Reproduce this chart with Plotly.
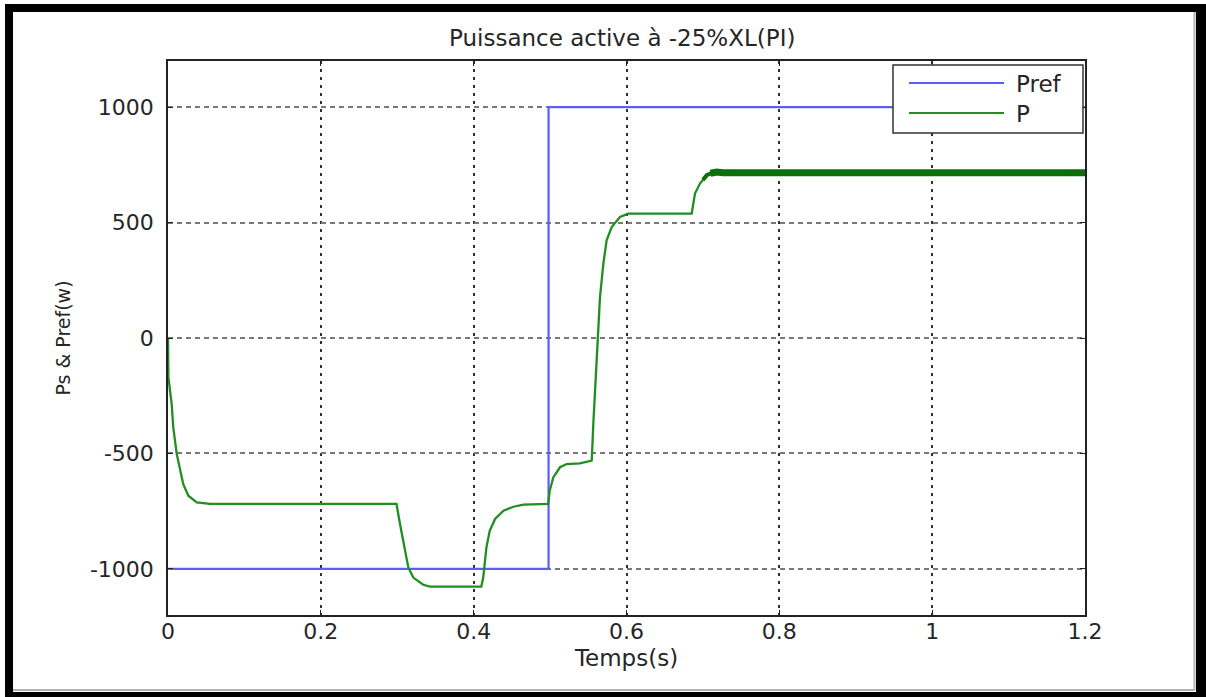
import plotly.graph_objects as go

# ---- data ----
pref_t = [0.0, 0.498, 0.498, 1.2]
pref_v = [-1000, -1000, 1000, 1000]

p_t = [0.0, 0.0005, 0.0048, 0.0069, 0.0114, 0.0157, 0.020, 0.0266, 0.0376, 0.055,
       0.299, 0.3036, 0.310, 0.3145, 0.321, 0.334, 0.343, 0.410,
       0.4125, 0.4167, 0.421, 0.428, 0.439, 0.452, 0.465, 0.4975,
       0.4995, 0.5042, 0.513, 0.5217, 0.539, 0.5545,
       0.5566, 0.561, 0.5632, 0.5653, 0.5697, 0.574, 0.5806, 0.5915, 0.6023,
       0.6853, 0.6896, 0.6961, 0.705, 0.718, 0.726, 1.2]
p_v = [0, -170, -285, -387, -502, -575, -633, -683, -712, -719,
       -719, -806, -922, -994, -1038, -1069, -1077, -1077,
       -1038, -907, -835, -784, -748, -731, -722, -719,
       -662, -604, -560, -546, -543, -531,
       -371, -83, 63, 177, 322, 423, 481, 524, 539,
       539, 626, 669, 705, 719, 716, 716]

# steady-state ripple band of P (drawn thicker)
ripple_start_t = [0.700, 0.705, 0.712]
ripple_start_v = [685, 705, 715]
ripple_t = [0.710, 0.718, 0.726, 1.2]
ripple_v = [714, 719, 716, 716]

x_ticks = [0, 0.2, 0.4, 0.6, 0.8, 1, 1.2]
x_tick_labels = ["0", "0.2", "0.4", "0.6", "0.8", "1", "1.2"]
y_ticks = [-1000, -500, 0, 500, 1000]
y_tick_labels = ["-1000", "-500", "0", "500", "1000"]

title_text = "Puissance active à -25%XL(PI)"
x_title = "Temps(s)"
y_title = "Ps & Pref(w)"
legend_names = ["Pref", "P"]

# ---- layout geometry (pixels) ----
W, H = 1206, 697
L, R, T, B = 168, 1085, 61, 615
PW, PH = R - L, B - T


def fx(x):
    return (x - L) / PW


def fy(y):
    return (B - y) / PH


BLUE = "#5c5cff"
GREEN = "#1f8f1f"
DARKGREEN = "#0b6f0b"
FONT = "DejaVu Sans"
TXT = "#262626"

fig = go.Figure()
fig.add_trace(go.Scatter(x=pref_t, y=pref_v, mode="lines", name=legend_names[0],
                         line=dict(color=BLUE, width=2.2), showlegend=False))
fig.add_trace(go.Scatter(x=p_t, y=p_v, mode="lines", name=legend_names[1],
                         line=dict(color=GREEN, width=2.3), showlegend=False))
fig.add_trace(go.Scatter(x=ripple_start_t, y=ripple_start_v, mode="lines", name="P ripple start",
                         line=dict(color=DARKGREEN, width=4), showlegend=False,
                         hoverinfo="skip"))
fig.add_trace(go.Scatter(x=ripple_t, y=ripple_v, mode="lines", name="P ripple",
                         line=dict(color=DARKGREEN, width=7), showlegend=False,
                         hoverinfo="skip"))

shapes = []
# outer black frame
for x0, y0, x1, y1 in [(5, 4, 13, 697), (5, 4, 1206, 12), (1196, 4, 1206, 697), (5, 692, 1206, 697)]:
    shapes.append(dict(type="rect", xref="paper", yref="paper",
                       x0=fx(x0), x1=fx(x1), y0=fy(y1), y1=fy(y0),
                       fillcolor="black", line=dict(width=0), layer="above"))
# gray inner shadow lines
shapes.append(dict(type="line", xref="paper", yref="paper", x0=fx(1194.5), x1=fx(1194.5),
                   y0=fy(690), y1=fy(12), line=dict(color="#b4b4b4", width=2)))
shapes.append(dict(type="line", xref="paper", yref="paper", x0=fx(13), x1=fx(1195),
                   y0=fy(690), y1=fy(690), line=dict(color="#b4b4b4", width=2)))
# legend box
shapes.append(dict(type="rect", xref="paper", yref="paper", x0=fx(893), x1=fx(1083),
                   y0=fy(133), y1=fy(65), fillcolor="white",
                   line=dict(color="#333333", width=1.5), layer="above"))
shapes.append(dict(type="line", xref="paper", yref="paper", x0=fx(909), x1=fx(1004),
                   y0=fy(83), y1=fy(83), line=dict(color=BLUE, width=2), layer="above"))
shapes.append(dict(type="line", xref="paper", yref="paper", x0=fx(909), x1=fx(1004),
                   y0=fy(113), y1=fy(113), line=dict(color=GREEN, width=2), layer="above"))

annotations = [
    dict(text=title_text, xref="paper", yref="paper", x=fx(622), y=fy(38),
         xanchor="center", yanchor="middle", showarrow=False,
         font=dict(family=FONT, size=23, color=TXT)),
    dict(text=legend_names[0], xref="paper", yref="paper", x=fx(1014), y=fy(84),
         xanchor="left", yanchor="middle", showarrow=False,
         font=dict(family=FONT, size=23, color=TXT)),
    dict(text=legend_names[1], xref="paper", yref="paper", x=fx(1014), y=fy(114),
         xanchor="left", yanchor="middle", showarrow=False,
         font=dict(family=FONT, size=23, color=TXT)),
]

axis_common = dict(showline=True, mirror="allticks", linecolor="#222222", linewidth=1.5,
                   ticks="inside", ticklen=5, tickcolor="#222222", tickwidth=1,
                   zeroline=False, showgrid=True,
                   tickfont=dict(family=FONT, size=22, color=TXT))

fig.update_layout(
    width=W, height=H,
    margin=dict(l=L, r=W - R, t=T, b=H - B, autoexpand=False),
    paper_bgcolor="white", plot_bgcolor="white",
    showlegend=False,
    shapes=shapes, annotations=annotations,
    xaxis=dict(range=[0, 1.2], tickvals=x_ticks, ticktext=x_tick_labels,
               gridcolor="#303030", gridwidth=1.5, griddash="3px,5px",
               ticklabelstandoff=-4,
               title=dict(text=x_title, standoff=7, font=dict(family=FONT, size=23, color=TXT)),
               **axis_common),
    yaxis=dict(range=[-1200, 1200], tickvals=y_ticks, ticktext=y_tick_labels,
               gridcolor="#787878", gridwidth=1.5, griddash="5px,4px",
               ticklabelstandoff=8,
               title=dict(text=y_title, standoff=14, font=dict(family=FONT, size=19, color=TXT)),
               **axis_common),
)

fig.write_html("out.html", config={"displayModeBar": False},
               post_script="document.body.style.margin='0';")
